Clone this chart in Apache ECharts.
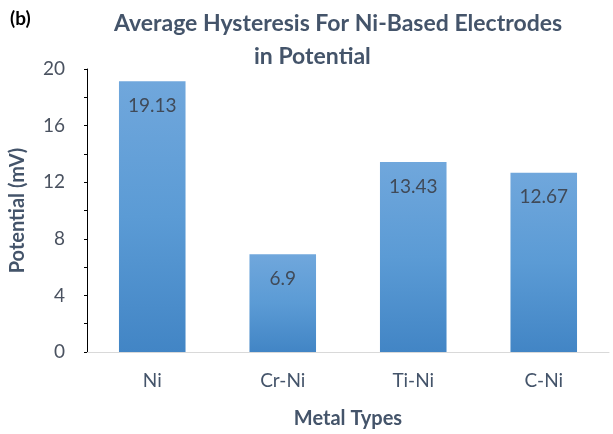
<!DOCTYPE html>
<html>
<head>
<meta charset="utf-8">
<script src="https://cdn.jsdelivr.net/npm/echarts@6/dist/echarts.min.js"></script>
<style>
  html, body { margin: 0; padding: 0; background: #fff; }
  #chart { width: 613px; height: 434px; }
</style>
</head>
<body>
<div id="chart"></div>
<script>
// Metal types and their average hysteresis (mV)
const categories = ['Ni', 'Cr-Ni', 'Ti-Ni', 'C-Ni'];
const hysteresis = [19.13, 6.9, 13.43, 12.67];
const yTicks = [0, 4, 8, 12, 16, 20];

const FONT = 'Lato, "Open Sans", sans-serif';
const chart = echarts.init(document.getElementById('chart'), null, { renderer: 'canvas' });

chart.setOption({
  backgroundColor: '#ffffff',
  animation: false,
  title: [
    { text: '(b)', left: 5, top: 4,
      textStyle: { fontFamily: FONT, fontSize: 19, fontWeight: 'bold', color: '#000000' } },
    { text: 'Average Hysteresis For Ni-Based Electrodes', left: 109, top: 7,
      textStyle: { fontFamily: FONT, fontSize: 23, fontWeight: 'bold', color: '#44546a' } },
    { text: 'in Potential', left: 249, top: 40,
      textStyle: { fontFamily: FONT, fontSize: 23, fontWeight: 'bold', color: '#44546a' } }
  ],
  grid: { left: 83, right: 4, top: 69, bottom: 78, containLabel: false },
  xAxis: {
    type: 'category',
    data: categories,
    name: 'Metal Types',
    nameLocation: 'middle',
    nameGap: 57,
    nameTextStyle: { fontFamily: FONT, fontSize: 20, fontWeight: 'bold', color: '#44546a' },
    axisLine: { show: true, lineStyle: { color: '#d9d9d9', width: 1 } },
    axisTick: { show: false },
    axisLabel: { fontFamily: FONT, fontSize: 19, color: '#44546a', margin: 19 }
  },
  yAxis: {
    type: 'value',
    min: 0, max: 20, interval: 4,
    name: 'Potential (mV)',
    nameLocation: 'middle',
    nameGap: 59,
    nameTextStyle: { fontFamily: FONT, fontSize: 20, fontWeight: 'bold', color: '#44546a' },
    axisLine: { show: true, lineStyle: { color: '#000000', width: 1 } },
    axisTick: { show: true, inside: false, length: 3, lineStyle: { color: '#000000' } },
    minorTick: { show: true, splitNumber: 2, length: 3, lineStyle: { color: '#000000' } },
    splitLine: { show: false },
    axisLabel: {
      fontFamily: FONT, fontSize: 19, color: '#4a5260', margin: 22,
      formatter: v => (yTicks.includes(v) ? String(v) : '')
    }
  },
  series: [{
    type: 'bar',
    data: hysteresis,
    barWidth: '51%',
    itemStyle: {
      color: new echarts.graphic.LinearGradient(0, 0, 0, 1, [
        { offset: 0, color: '#70a7dc' },
        { offset: 0.5, color: '#5b9bd5' },
        { offset: 1, color: '#4285c5' }
      ])
    },
    label: {
      show: true,
      position: 'insideTop',
      distance: 15,
      fontFamily: FONT, fontSize: 19, color: '#404a58'
    }
  }]
});
</script>
</body>
</html>
